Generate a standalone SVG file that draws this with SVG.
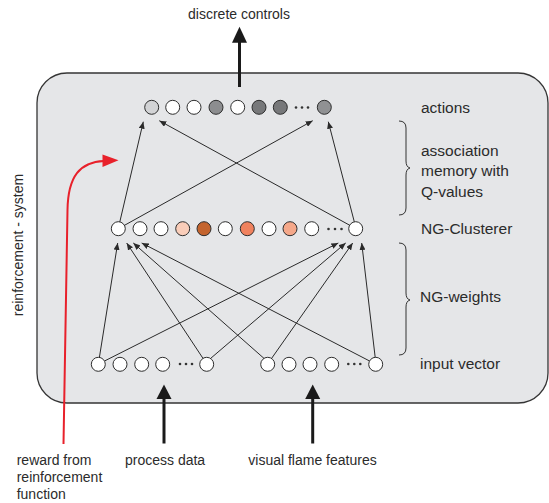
<svg xmlns="http://www.w3.org/2000/svg" width="549" height="503" viewBox="0 0 549 503">
<defs>
<style>
.lbl{font-family:"Liberation Sans",Arial,sans-serif;font-size:14px;fill:#2b2b2b}
.rl{font-family:"Liberation Sans",Arial,sans-serif;font-size:15.5px;fill:#2b2b2b}
.n{stroke:#2e2e2e;stroke-width:1;fill:#ffffff}
.dot{fill:#333333}
.c{stroke:#2a2a2a;stroke-width:1;fill:none;marker-end:url(#ah)}
.big{stroke:#1a1a1a;stroke-width:3;fill:none}
.bigh{fill:#1a1a1a}
.brace{stroke:#333333;stroke-width:1;fill:none}
</style>
<marker id="ah" markerUnits="userSpaceOnUse" markerWidth="7" markerHeight="6" refX="7" refY="3" orient="auto">
<path d="M0,0 L7,3 L0,6 z" fill="#2a2a2a"/>
</marker>
</defs>
<rect width="549" height="503" fill="#ffffff"/>
<g id="system-box">
<rect x="37" y="73" width="511" height="330" rx="30" ry="30" fill="#e5e6e8" stroke="#353535" stroke-width="1.3"/>
</g>
<text class="lbl" transform="translate(22.5,245) rotate(-90)" text-anchor="middle">reinforcement - system</text>

<g id="actions">
<circle class="n" cx="151.7" cy="107.3" r="7" style="fill:#d2d3d5"/>
<circle class="n" cx="172.7" cy="107.3" r="7"/>
<circle class="n" cx="194" cy="107.3" r="7"/>
<circle class="n" cx="216" cy="107.3" r="7" style="fill:#8c8d8f"/>
<circle class="n" cx="237.7" cy="107.3" r="7"/>
<circle class="n" cx="259" cy="107.3" r="7" style="fill:#77787a"/>
<circle class="n" cx="280.3" cy="107.3" r="7" style="fill:#77787a"/>
<circle class="dot" cx="296" cy="107.5" r="1.3"/>
<circle class="dot" cx="302" cy="107.5" r="1.3"/>
<circle class="dot" cx="308" cy="107.5" r="1.3"/>
<circle class="n" cx="324.3" cy="107.3" r="7" style="fill:#909193"/>
</g>

<g id="ng-clusterer">
<circle class="n" cx="118.3" cy="228.7" r="7"/>
<circle class="n" cx="140" cy="228.7" r="7"/>
<circle class="n" cx="161" cy="228.7" r="7"/>
<circle class="n" cx="182.7" cy="228.7" r="7" style="fill:#f9cdb9"/>
<circle class="n" cx="204" cy="228.7" r="7" style="fill:#c4642e"/>
<circle class="n" cx="225.3" cy="228.7" r="7"/>
<circle class="n" cx="247.3" cy="228.7" r="7" style="fill:#f0825e"/>
<circle class="n" cx="269" cy="228.7" r="7"/>
<circle class="n" cx="290" cy="228.7" r="7" style="fill:#f5a88a"/>
<circle class="n" cx="311.7" cy="228.7" r="7"/>
<circle class="dot" cx="328.5" cy="229" r="1.3"/>
<circle class="dot" cx="335" cy="229" r="1.3"/>
<circle class="dot" cx="341.5" cy="229" r="1.3"/>
<circle class="n" cx="355.7" cy="228.7" r="7"/>
</g>

<g id="input-vector">
<circle class="n" cx="98.3" cy="364.3" r="7"/>
<circle class="n" cx="120" cy="364.3" r="7"/>
<circle class="n" cx="141.7" cy="364.3" r="7"/>
<circle class="n" cx="162.7" cy="364.3" r="7"/>
<circle class="dot" cx="180" cy="364" r="1.3"/>
<circle class="dot" cx="186" cy="364" r="1.3"/>
<circle class="dot" cx="192" cy="364" r="1.3"/>
<circle class="n" cx="206.7" cy="364.3" r="7"/>
<circle class="n" cx="267.7" cy="364.3" r="7"/>
<circle class="n" cx="289" cy="364.3" r="7"/>
<circle class="n" cx="310" cy="364.3" r="7"/>
<circle class="n" cx="331.7" cy="364.3" r="7"/>
<circle class="dot" cx="348.3" cy="364" r="1.3"/>
<circle class="dot" cx="354.3" cy="364" r="1.3"/>
<circle class="dot" cx="360.3" cy="364" r="1.3"/>
<circle class="n" cx="375.7" cy="364.3" r="7"/>
</g>

<g id="connectors">
<line class="c" x1="119.8" y1="221.9" x2="143.3" y2="121.7"/>
<line class="c" x1="124.5" y1="225.3" x2="312.7" y2="120.7"/>
<line class="c" x1="349.6" y1="225.2" x2="159.3" y2="120.7"/>
<line class="c" x1="354.3" y1="221.8" x2="328.3" y2="121.7"/>

<line class="c" x1="99.4" y1="357.4" x2="117.7" y2="243"/>
<line class="c" x1="104.5" y1="361" x2="338.3" y2="243"/>
<line class="c" x1="203" y1="358.4" x2="126.7" y2="243"/>
<line class="c" x1="210.5" y1="358.5" x2="345.7" y2="243"/>
<line class="c" x1="264" y1="358.4" x2="133.3" y2="243"/>
<line class="c" x1="271.5" y1="358.5" x2="352.7" y2="243"/>
<line class="c" x1="369.6" y1="361" x2="141.7" y2="243"/>
<line class="c" x1="375.2" y1="357.4" x2="361.7" y2="243"/>
</g>

<g id="discrete-controls">
<line class="big" x1="239.5" y1="87" x2="239.5" y2="41"/>
<polygon class="bigh" points="239.5,26.7 247,42.7 232,42.7"/>
<text class="lbl" x="239" y="19" text-anchor="middle">discrete controls</text>
</g>

<g id="process-data">
<line class="big" x1="164" y1="443.5" x2="164" y2="397"/>
<polygon class="bigh" points="164,384.5 171.5,399 156.5,399"/>
<text class="lbl" x="125" y="465">process data</text>
</g>

<g id="visual-flame-features">
<line class="big" x1="312.7" y1="443.5" x2="312.7" y2="397"/>
<polygon class="bigh" points="312.7,384.5 320.2,399 305.2,399"/>
<text class="lbl" x="248.3" y="465">visual flame features</text>
</g>

<g id="reward">
<path d="M63.5,444 L67.5,210 C68,176 80,162 104,161" stroke="#e8212b" stroke-width="2" fill="none"/>
<polygon points="102.5,154.5 118.5,160.3 102.5,167" fill="#e8212b"/>
<text class="lbl" x="16.7" y="465">reward from</text>
<text class="lbl" x="16.7" y="482">reinforcement</text>
<text class="lbl" x="16.7" y="499">function</text>
</g>

<g id="labels">
<text class="rl" x="421" y="113">actions</text>
<path class="brace" d="M399,121 Q406,121 406,128 L406,161 Q406,167 410,168 Q406,169 406,175 L406,208 Q406,215 399,215"/>
<text class="rl" x="421" y="155.5">association</text>
<text class="rl" x="421" y="176">memory with</text>
<text class="rl" x="421" y="196.5">Q-values</text>
<text class="rl" x="421" y="234">NG-Clusterer</text>
<path class="brace" d="M399,243 Q406,243 406,250 L406,293 Q406,299 410,300 Q406,301 406,307 L406,348 Q406,355 399,355"/>
<text class="rl" x="420" y="302">NG-weights</text>
<text class="rl" x="420" y="368.5">input vector</text>
</g>
</svg>
